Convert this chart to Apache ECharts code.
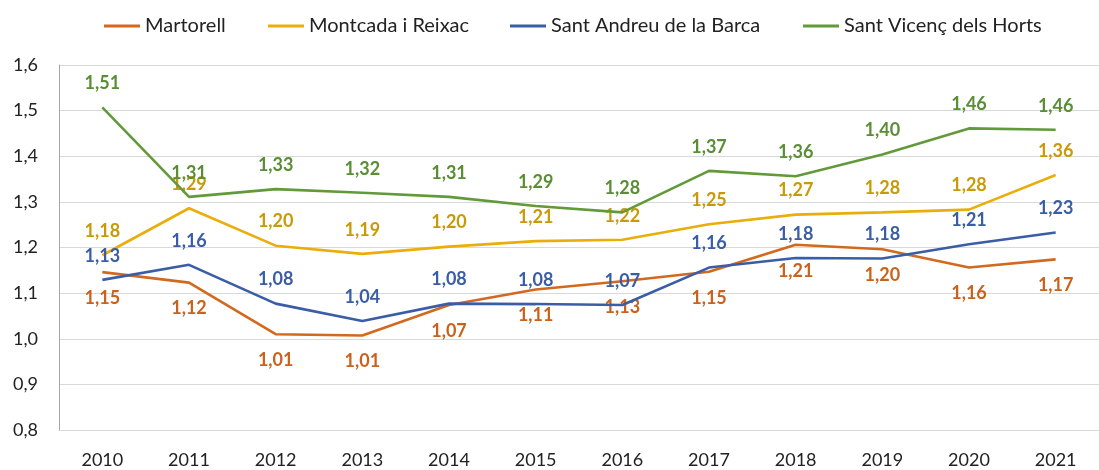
<!DOCTYPE html>
<html>
<head>
<meta charset="utf-8">
<script src="https://cdn.jsdelivr.net/npm/echarts@6/dist/echarts.min.js"></script>
<style>
html,body{margin:0;padding:0;background:#fff;}
#chart{width:1099px;height:470px;}
</style>
</head>
<body>
<div id="chart"></div>
<script>
const years = ['2010','2011','2012','2013','2014','2015','2016','2017','2018','2019','2020','2021'];
const seriesNames = ['Martorell','Montcada i Reixac','Sant Andreu de la Barca','Sant Vicenç dels Horts'];
const martorell = [1.146, 1.123, 1.010, 1.007, 1.074, 1.108, 1.126, 1.147, 1.206, 1.196, 1.156, 1.174];
const montcada = [1.183, 1.286, 1.204, 1.186, 1.202, 1.214, 1.217, 1.251, 1.272, 1.277, 1.283, 1.359];
const santAndreu = [1.129, 1.162, 1.077, 1.039, 1.077, 1.076, 1.074, 1.156, 1.177, 1.176, 1.207, 1.233];
const santVicenc = [1.507, 1.311, 1.328, 1.320, 1.311, 1.291, 1.277, 1.368, 1.356, 1.404, 1.461, 1.458];
const yTicks = {min: 0.8, max: 1.6, interval: 0.1};

const lineColors = ['#D2691F', '#E9AE0A', '#3A5DA6', '#629A3A'];
const labelColors = ['#C8621C', '#C99A08', '#3A5DA6', '#5A8E34'];
const labelPos = ['bottom', 'top', 'top', 'top'];
const legendLeft = [99, 263, 505, 798];
const dataSets = [martorell, montcada, santAndreu, santVicenc];
const FONT = 'Lato';

const chart = echarts.init(document.getElementById('chart'), null, {renderer: 'canvas'});
const fmt = v => v.toFixed(2).replace('.', ',');

const series = seriesNames.map((name, i) => ({
  name: name,
  type: 'line',
  data: dataSets[i],
  symbol: 'circle',
  symbolSize: 0.1,
  showSymbol: true,
  smooth: false,
  z: 2 + i,
  lineStyle: {color: lineColors[i], width: 2.6},
  itemStyle: {color: lineColors[i]},
  label: {
    show: true,
    position: labelPos[i],
    distance: labelPos[i] === 'bottom' ? 17 : 15,
    formatter: p => fmt(p.value),
    color: labelColors[i],
    fontFamily: FONT,
    fontWeight: 'bold',
    fontSize: 18
  },
  labelLayout: {hideOverlap: false}
}));

const legends = seriesNames.map((name, i) => ({
  top: 11,
  left: legendLeft[i],
  itemWidth: 36,
  itemHeight: 3,
  itemGap: 0,
  icon: 'rect',
  textStyle: {fontFamily: FONT, fontSize: 20, color: '#222'},
  data: [name]
}));

chart.setOption({
  animation: false,
  backgroundColor: '#ffffff',
  legend: legends,
  grid: {left: 59, right: -13, top: 65, bottom: 40, containLabel: false},
  xAxis: {
    type: 'category',
    data: years,
    boundaryGap: true,
    axisLine: {show: true, lineStyle: {color: '#d9d9d9', width: 1}},
    axisTick: {show: false},
    axisLabel: {fontFamily: FONT, fontSize: 18, color: '#222', margin: 21}
  },
  yAxis: {
    type: 'value',
    min: yTicks.min,
    max: yTicks.max,
    interval: yTicks.interval,
    axisLine: {show: true, lineStyle: {color: '#a6a6a6', width: 1}},
    axisTick: {show: false},
    splitLine: {show: true, lineStyle: {color: '#d9d9d9', width: 1}},
    axisLabel: {fontFamily: FONT, fontSize: 18, color: '#222', margin: 21,
      formatter: v => v.toFixed(1).replace('.', ',')}
  },
  series: series
});
</script>
</body>
</html>
